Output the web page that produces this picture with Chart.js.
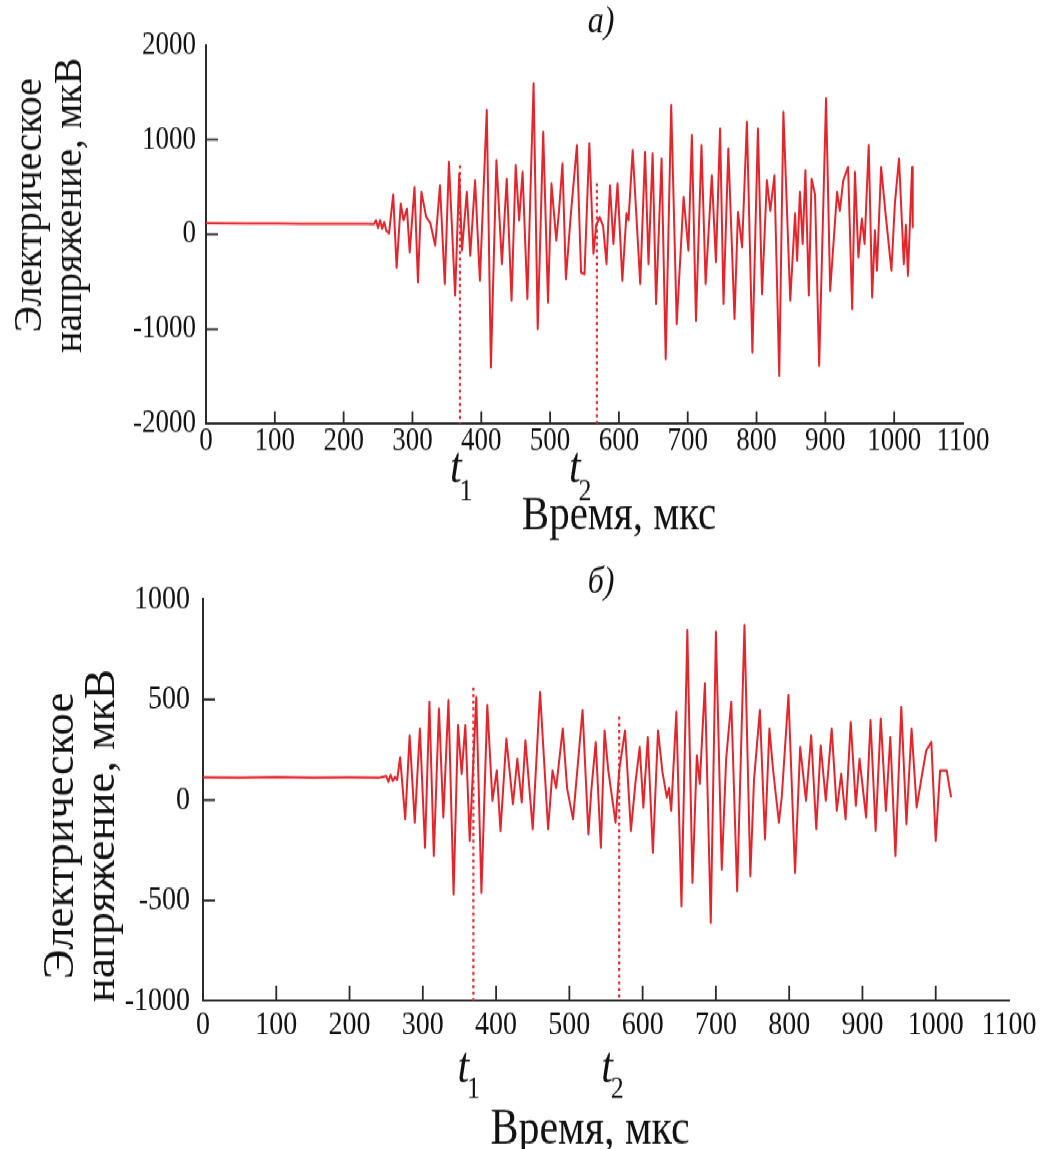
<!DOCTYPE html>
<html lang="ru">
<head>
<meta charset="utf-8">
<title>Электрическое напряжение</title>
<script src="https://cdn.jsdelivr.net/npm/chart.js@4.4.1/dist/chart.umd.min.js"></script>
<style>
  html, body { margin: 0; padding: 0; background: #fff; height: 1149px; }
  /* the whole sheet is drawn flat and stretched 1.2x vertically */
  #sheet { position: relative; width: 1044px; height: 957.5px; transform: scaleY(1.2); transform-origin: 0 0; }
  .panel { position: absolute; left: 0; width: 1044px; }
  #panelA { top: 0; height: 470px; }
  #panelB { top: 470px; height: 487.5px; }
</style>
</head>
<body>
<div id="sheet">
  <div class="panel" id="panelA"><canvas id="chartA"></canvas></div>
  <div class="panel" id="panelB"><canvas id="chartB"></canvas></div>
</div>
<script>
var STRETCH = 1.2;
var SERIF = '"Liberation Serif", "Times New Roman", serif';
var RED = '#e4252c';
var AXIS = '#2b2b2b';
var INK = '#111';

// record а): time, мкс / voltage, мкВ
var timeA = [0, 60, 105, 140, 190, 235, 244, 247, 250, 253, 256, 259, 262, 266, 272, 277, 283, 287, 292, 296,
  303, 308, 313, 320, 326, 333, 340, 347, 353, 362, 368, 372, 379, 384, 391, 398, 408, 414, 422, 430,
  437, 444, 450, 455, 460, 467, 476, 482, 490, 497, 502, 509, 513, 518, 523, 530, 539, 545, 550, 557,
  563, 567, 572, 577, 582, 587, 592, 598, 605, 611, 614, 620, 631, 638, 643, 649, 654, 662, 668, 676,
  684, 694, 701, 706, 712, 720, 726, 735, 741, 747, 752, 759, 768, 773, 779, 786, 794, 802, 808, 815,
  820, 826, 833, 839, 849, 856, 859, 863, 867, 871, 876, 880, 885, 891, 901, 907, 917, 921, 926, 933,
  939, 943, 948, 953, 957, 963, 968, 972, 975, 981, 987, 996, 1001, 1007, 1014, 1017, 1020, 1026, 1027];
var voltA = [118, 115, 116, 113, 114, 113, 110, 150, 70, 150, 60, 130, 40, 10, 420, -350, 325, 150, 272, -187,
  500, -505, 448, 183, 120, -116, 518, -522, 765, -645, 642, -169, 448, -222, 571, -487, 1312, -1404, 783, -310,
  589, -698, 730, 150, 660, -680, 1594, -998, 1083, -716, 536, -63, 250, 748, -469, 200, 942, -400, -420, 960,
  -204, 100, 183, 90, -310, 518, -98, 536, -487, 222, 150, 889, -522, 871, -310, 854, -733, 801, -1315, 1365,
  -945, 395, -169, 1048, -910, 942, -522, 624, -293, 1118, -733, 907, -892, 236, -134, 1188, -1245, 1118, -628, 571,
  250, 624, -1492, 1294, -698, 219, -275, 448, -98, 677, -645, 589, 420, -1386, 1436, -593, 448, 250, 571, 712,
  -786, 659, -240, 166, -98, 942, -663, 42, -381, 712, 254, -381, 325, 801, -310, 100, -434, 712, 77];

// record б)
var timeB = [0, 50, 100, 150, 200, 240, 250, 253, 256, 259, 262, 265, 269, 276, 282, 289, 296, 303, 309, 315,
  322, 328, 335, 342, 348, 353, 358, 364, 373, 380, 388, 395, 401, 406, 414, 423, 429, 435, 440, 450,
  460, 471, 477, 482, 491, 497, 505, 518, 526, 530, 536, 543, 548, 553, 563, 568, 576, 584, 590, 596,
  601, 607, 614, 621, 627, 633, 636, 639, 646, 653, 661, 668, 674, 678, 685, 693, 700, 708, 714, 721,
  729, 739, 747, 752, 760, 767, 773, 778, 786, 790, 799, 808, 815, 823, 830, 837, 843, 850, 858, 865,
  871, 877, 884, 891, 896, 905, 911, 918, 925, 932, 938, 945, 953, 960, 967, 974, 980, 987, 994, 1000,
  1006, 1015, 1021];
var voltB = [112, 110, 113, 111, 112, 110, 120, 90, 125, 95, 115, 100, 213, -95, 321, -112, 355, -237, 488, -278,
  455, -87, 497, -470, 372, 130, 372, -203, 513, -462, 472, -3, 147, -153, 305, -20, 205, -12, 297, -145,
  538, -145, 147, 60, 355, 56, -95, 447, -170, 50, 288, -237, 346, 150, -112, 147, 346, -153, 80, 263,
  -37, 313, -262, 346, 140, 13, 60, -53, 438, -528, 846, -412, 222, 81, 580, -612, 838, -345, 205, 488,
  -453, 871, -378, 100, 447, -195, 355, 150, -112, 20, 522, -362, 263, -3, 321, -145, 271, -3, 355, -53,
  130, -95, 388, -28, 205, -87, 397, -153, 405, -53, 313, -278, 463, -120, 355, -37, 97, 247, 288, -203,
  147, 147, 13];

// dotted markers t1, t2 and the voltage each one rises to
var markerTimes = [369, 568];
var markerTopA = [730, 540];
var markerTopB = [560, 415];
var markerNames = ['1', '2'];

var yTitle = ['Электрическое', 'напряжение, мкВ'];
var xTitle = 'Время, мкс';

function toPoints(t, v) {
  var pts = [];
  for (var i = 0; i < t.length; i++) pts.push({x: t[i], y: v[i]});
  return pts;
}

function buildDatasets(time, volt, tops, yMin) {
  var sets = [{
    data: toPoints(time, volt),
    borderColor: RED, borderWidth: 2, borderJoinStyle: 'round',
    pointRadius: 0, tension: 0
  }];
  for (var i = 0; i < markerTimes.length; i++) {
    sets.push({
      data: [{x: markerTimes[i], y: tops[i]}, {x: markerTimes[i], y: yMin}],
      borderColor: RED, borderWidth: 2.2, borderDash: [2.5, 3],
      pointRadius: 0
    });
  }
  return sets;
}

// inward tick marks, titles and the t1 / t2 labels
var figureDecor = {
  id: 'figureDecor',
  afterDraw: function(chart, args, o) {
    var ctx = chart.ctx, a = chart.chartArea;
    var xs = chart.scales.x, ys = chart.scales.y;
    ctx.save();
    ctx.strokeStyle = AXIS;
    ctx.lineWidth = 1.8;
    ctx.beginPath();
    xs.ticks.forEach(function(t) {
      if (t.value <= xs.min || t.value >= xs.max) return;
      var px = xs.getPixelForValue(t.value);
      ctx.moveTo(px, a.bottom);
      ctx.lineTo(px, a.bottom - o.xTickLen);
    });
    ys.ticks.forEach(function(t) {
      if (t.value <= ys.min || t.value >= ys.max) return;
      var py = ys.getPixelForValue(t.value);
      ctx.moveTo(a.left, py);
      ctx.lineTo(a.left + o.yTickLen, py);
    });
    ctx.stroke();

    ctx.fillStyle = INK;
    ctx.textAlign = 'center';
    ctx.textBaseline = 'middle';

    ctx.font = 'italic ' + o.letterSize + 'px ' + SERIF;
    ctx.fillText(o.letter, o.letterX, o.letterY);

    markerTimes.forEach(function(tm, i) {
      var px = xs.getPixelForValue(tm) + o.tShift[i];
      ctx.font = 'italic ' + o.tSize + 'px ' + SERIF;
      ctx.fillText('t', px, o.tY);
      ctx.font = o.subSize + 'px ' + SERIF;
      ctx.fillText(markerNames[i], px + o.subDx, o.subY);
    });

    ctx.textBaseline = 'alphabetic';
    ctx.font = o.xTitleSize + 'px ' + SERIF;
    ctx.fillText(xTitle, o.xTitleX, o.xTitleBase);

    // y title is kept upright: undo the sheet stretch locally
    ctx.textBaseline = 'middle';
    ctx.font = o.yTitleSize + 'px ' + SERIF;
    yTitle.forEach(function(line, i) {
      ctx.save();
      ctx.translate(o.yTitleX[i], o.yTitleY);
      ctx.scale(1, 1 / STRETCH);
      ctx.rotate(-Math.PI / 2);
      ctx.fillText(line, 0, 0);
      ctx.restore();
    });
    ctx.restore();
  }
};

function plainNumber(v) { return String(v); }

function panelConfig(p) {
  var tickFont = {family: SERIF, size: p.tickSize, lineHeight: 1};
  return {
    type: 'line',
    data: {datasets: buildDatasets(p.time, p.volt, p.tops, p.yMin)},
    plugins: [figureDecor],
    options: {
      responsive: true,
      maintainAspectRatio: false,
      animation: false,
      layout: {padding: {left: 0, right: p.padRight, top: p.padTop, bottom: 0}},
      plugins: {
        legend: {display: false},
        tooltip: {enabled: false},
        figureDecor: p.decor
      },
      scales: {
        x: {
          type: 'linear', min: 0, max: 1100,
          grid: {display: false, drawTicks: false},
          border: {display: true, color: AXIS, width: 2},
          ticks: {stepSize: 100, padding: p.xPad, color: INK, font: tickFont, maxRotation: 0, autoSkip: false, callback: plainNumber},
          afterFit: function(s) { s.height = p.xHeight; }
        },
        y: {
          type: 'linear', min: p.yMin, max: p.yMax,
          grid: {display: false, drawTicks: false},
          border: {display: true, color: AXIS, width: 2},
          ticks: {stepSize: p.yStep, padding: p.yPad, color: INK, font: tickFont, callback: plainNumber},
          afterFit: function(s) { s.width = p.yWidth; }
        }
      }
    }
  };
}

new Chart(document.getElementById('chartA'), panelConfig({
  time: timeA, volt: voltA, tops: markerTopA,
  yMin: -2000, yMax: 2000, yStep: 1000,
  padTop: 37.5, padRight: 81, xHeight: 116.7, yWidth: 206,
  xPad: 1, yPad: 10, tickSize: 27,
  decor: {
    letter: 'а)', letterX: 601, letterY: 19, letterSize: 32,
    xTitleX: 619, xTitleBase: 441, xTitleSize: 41,
    tShift: [-4, -22], tY: 391, tSize: 42, subDx: 10, subY: 410, subSize: 26,
    yTitleX: [30, 70], yTitleY: 171, yTitleSize: 40,
    xTickLen: 10.5, yTickLen: 12
  }
}));

new Chart(document.getElementById('chartB'), panelConfig({
  time: timeB, volt: voltB, tops: markerTopB,
  yMin: -1000, yMax: 1000, yStep: 500,
  padTop: 29.2, padRight: 35, xHeight: 124.2, yWidth: 203,
  xPad: 6, yPad: 13, tickSize: 28,
  decor: {
    letter: 'б)', letterX: 601, letterY: 16, letterSize: 32,
    xTitleX: 590, xTitleBase: 482, xTitleSize: 42,
    tShift: [-10, -12], tY: 420, tSize: 42, subDx: 10, subY: 437, subSize: 26,
    yTitleX: [61, 102], yTitleY: 226, yTitleSize: 45,
    xTickLen: 12.5, yTickLen: 12
  }
}));
</script>
</body>
</html>
